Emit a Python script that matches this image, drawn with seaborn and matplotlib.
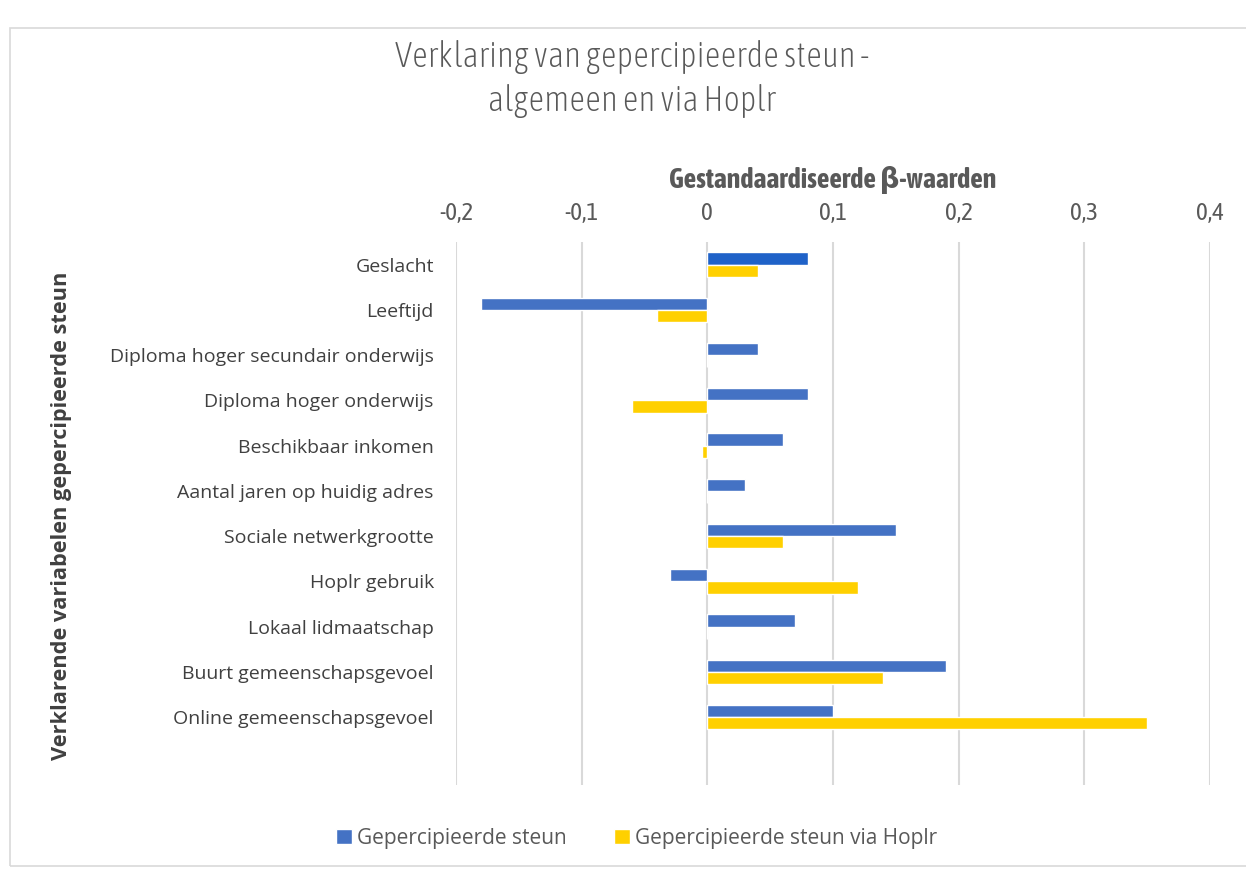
import matplotlib
matplotlib.use("Agg")
import matplotlib.pyplot as plt
from matplotlib import font_manager
from matplotlib.ticker import FuncFormatter
from matplotlib.patches import Rectangle
import pandas as pd
import seaborn as sns

# data
categories = ["Geslacht", "Leeftijd", "Diploma hoger secundair onderwijs",
              "Diploma hoger onderwijs", "Beschikbaar inkomen",
              "Aantal jaren op huidig adres", "Sociale netwerkgrootte",
              "Hoplr gebruik", "Lokaal lidmaatschap",
              "Buurt gemeenschapsgevoel", "Online gemeenschapsgevoel"]
steun = [0.08, -0.18, 0.04, 0.08, 0.06, 0.03, 0.15, -0.03, 0.07, 0.19, 0.10]
steun_hoplr = [0.04, -0.04, 0.0, -0.06, -0.004, 0.0, 0.06, 0.12, 0.0, 0.14, 0.35]
series = ["Gepercipieerde steun", "Gepercipieerde steun via Hoplr"]
colors = ["#4472C4", "#FFD000"]
xticks = [-0.2, -0.1, 0, 0.1, 0.2, 0.3, 0.4]

# look for a condensed face (prefer one that has a bold weight)
fonts = font_manager.fontManager.ttflist
names = {f.name for f in fonts}
cands = {}
for f in fonts:
    if "Narrow" in f.name or "Condensed" in f.name:
        w = f.weight if isinstance(f.weight, int) else 400
        cands.setdefault(f.name, set()).add(w)
narrow = None
for n, ws in sorted(cands.items()):
    if max(ws) >= 700:
        narrow = n
        break
if narrow is None and cands:
    narrow = sorted(cands)[0]
if narrow is None:
    narrow = "Roboto" if "Roboto" in names else "DejaVu Sans"
body = "Open Sans" if "Open Sans" in names else "DejaVu Sans"
narrow_fam = [narrow, "DejaVu Sans"]

df = pd.DataFrame({
    "variabele": categories * 2,
    "waarde": steun + steun_hoplr,
    "reeks": [series[0]] * len(categories) + [series[1]] * len(categories),
})

sns.set_style("white")
plt.rcParams["font.family"] = [body, "DejaVu Sans"]

fig = plt.figure(figsize=(12.46, 8.69), dpi=100)
ax = fig.add_axes([0.366, 0.0967, 0.605, 0.6248])

sns.barplot(data=df, y="variabele", x="waarde", hue="reeks", order=categories,
            hue_order=series, palette=colors, orient="h", width=0.54,
            saturation=1, ax=ax)

# first bar (Geslacht, blue) appears highlighted slightly darker
ax.patches[0].set_facecolor("#1F62C8")

ax.set_xlim(-0.2, 0.4)
ax.set_ylim(11.5, -0.5)
ax.set_xticks(xticks)
ax.xaxis.set_major_formatter(FuncFormatter(
    lambda v, p: "0" if abs(v) < 1e-9 else f"{v:.1f}".replace(".", ",")))
ax.xaxis.tick_top()
ax.tick_params(axis="x", length=0, pad=12, labelsize=18, labelcolor="#595959")
ax.tick_params(axis="y", length=0, pad=16, labelsize=14, labelcolor="#404040")
for lbl in ax.get_xticklabels():
    lbl.set_fontfamily(narrow_fam)

ax.grid(axis="x", color="#D9D9D9", linewidth=1.5)
ax.set_axisbelow(True)
sns.despine(ax=ax, left=True, bottom=True, top=True, right=True)

ax.set_xlabel("Gestandaardiseerde β-waarden", fontsize=20, fontweight="bold",
              color="#595959", family=narrow_fam, labelpad=10)
ax.xaxis.set_label_position("top")
ax.set_ylabel("")
fig.text(0.049, 0.407, "Verklarende variabelen gepercipieerde steun", rotation=90,
         ha="center", va="center", fontsize=15.7, fontweight="bold", color="#404040")

fig.text(0.507, 0.909, "Verklaring van gepercipieerde steun -\nalgemeen en via Hoplr",
         ha="center", va="center", fontsize=25, color="#595959", family=narrow_fam,
         fontweight="light", linespacing=1.38)

ax.legend(loc="center", bbox_to_anchor=(0.511, 0.035), bbox_transform=fig.transFigure,
          ncol=2, frameon=False, fontsize=15, handlelength=0.75, handleheight=0.75,
          columnspacing=2.3, handletextpad=0.25, labelcolor="#595959")

fig.patches.append(Rectangle((0.008, 0.003), 1.2, 0.965, transform=fig.transFigure,
                             fill=False, edgecolor="#D9D9D9", linewidth=1.2))

fig.savefig("out.png", dpi=100)
